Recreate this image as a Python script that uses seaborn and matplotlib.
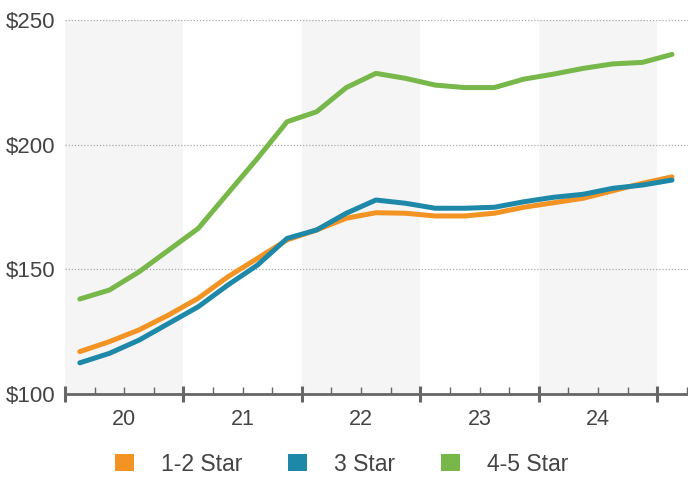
import numpy as np
import pandas as pd
import matplotlib
matplotlib.use("Agg")
import matplotlib.pyplot as plt
from matplotlib.patches import Patch
import seaborn as sns

# quarterly values, 20Q1 .. 25Q1
quarters = np.arange(21)
star_12 = [117, 121, 125.7, 131.7, 138.4, 147, 154.4, 161.8, 165.8, 170.5, 172.7,
           172.5, 171.4, 171.4, 172.5, 174.9, 176.7, 178.5, 181.5, 184.5, 187.1]
star_3 = [112.5, 116.3, 121.6, 128.3, 135, 143.7, 151.7, 162.4, 165.8, 172.5, 177.8,
          176.5, 174.5, 174.5, 174.9, 177.1, 178.9, 180.1, 182.5, 183.8, 185.8]
star_45 = [138.1, 141.7, 149, 157.7, 166.4, 180.5, 194.5, 209.2, 213.2, 222.9, 228.6,
           226.6, 223.9, 222.9, 222.9, 226.3, 228.3, 230.6, 232.4, 233, 236.2]
year_labels = ["20", "21", "22", "23", "24"]
series_names = ["1-2 Star", "3 Star", "4-5 Star"]
colors = ["#f39323", "#1e88a8", "#78b74a"]

df = pd.DataFrame({
    "x": np.tile((quarters + 0.5) / 4, 3),
    "rate": star_12 + star_3 + star_45,
    "segment": np.repeat(series_names, len(quarters)),
})

sns.set_style("white")
plt.rcParams["font.family"] = ["Liberation Sans", "DejaVu Sans"]

fig = plt.figure(figsize=(6.88, 4.78), dpi=100)
ax = fig.add_axes([65 / 688, 1 - 394 / 478, 1 - 65 / 688, 374 / 478])

# alternating year shading
for i in range(0, len(year_labels), 2):
    ax.axvspan(i, i + 1, color="#f5f5f5", zorder=0, lw=0)

sns.lineplot(data=df, x="x", y="rate", hue="segment", palette=colors,
             hue_order=series_names, linewidth=3.6, legend=False, ax=ax, zorder=3)

ax.set_xlim(0, 5.26)
ax.set_ylim(100, 250)
ax.set_yticks([100, 150, 200, 250])
ax.set_yticklabels(["$100", "$150", "$200", "$250"])
for yv in [150, 200, 250]:
    ax.axhline(yv, color="#aaaaaa", lw=0.9, ls=(0, (1, 1.5)), zorder=1)

ax.set_xticks(np.arange(0, 6))
ax.set_xticklabels([])
ax.set_xticks(np.arange(0, 5.26, 0.25), minor=True)
ax.tick_params(axis="x", which="both", bottom=True)
ax.tick_params(axis="x", which="major", direction="inout", length=11, width=2.2,
               color="#666666")
ax.tick_params(axis="x", which="minor", direction="in", length=5, width=1.0,
               color="#666666")
ax.tick_params(axis="y", length=0, labelsize=16, labelcolor="#444444", pad=7)
for i, lab in enumerate(year_labels):
    ax.text(i + 0.5, -0.04, lab, transform=ax.get_xaxis_transform(),
            ha="center", va="top", fontsize=15.5, color="#444444")

for s in ["top", "right", "left"]:
    ax.spines[s].set_visible(False)
ax.spines["bottom"].set_color("#666666")
ax.spines["bottom"].set_linewidth(2)
ax.spines["bottom"].set_zorder(4)
ax.set_xlabel("")
ax.set_ylabel("")

handles = [Patch(facecolor=c, edgecolor="none") for c in colors]
fig.legend(handles, series_names, loc="center", bbox_to_anchor=(0.497, 0.029),
           ncol=3, frameon=False, fontsize=16.5, handlelength=0.8, handleheight=0.8,
           columnspacing=2.0, handletextpad=1.2, labelcolor="#444444")

fig.savefig("out.png", dpi=100)
